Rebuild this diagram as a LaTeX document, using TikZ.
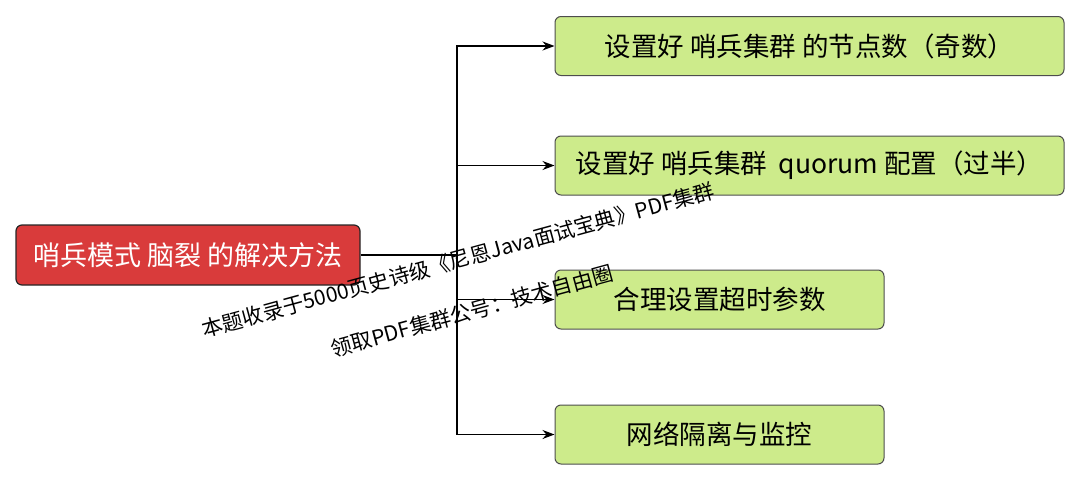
\documentclass[tikz,border=0pt]{standalone}
\usepackage{fontspec}
\newfontfamily\cjk{Noto Sans CJK SC}
\usetikzlibrary{arrows.meta}
\definecolor{rootred}{HTML}{D93B3B}
\definecolor{leafgreen}{HTML}{CDEB8B}
\definecolor{leafborder}{HTML}{4D4D4D}
\begin{document}
\begin{tikzpicture}[x=1pt,y=-1pt,
  rootbox/.style={draw=black!85, line width=1.2pt, fill=rootred, rounded corners=6pt, text=white,
     font=\cjk\fontsize{27}{30}\selectfont, minimum height=60pt, minimum width=344pt, inner sep=0pt},
  leafbox/.style={draw=leafborder, line width=1pt, fill=leafgreen, rounded corners=6pt, text=black,
     font=\cjk\fontsize{26.5}{30}\selectfont, minimum height=59pt, inner sep=0pt},
  conn/.style={draw=black, line width=1.2pt},
  arr/.style={conn, -{Stealth[length=12pt,width=9pt]}},
  wm/.style={font=\cjk\fontsize{21}{24}\selectfont, text=black, rotate=15.3, inner sep=0pt}
]
\useasboundingbox (0,0) rectangle (1080,480);
\node[rootbox] (root) at (188,255) {哨兵模式 脑裂 的解决方法};
\node[leafbox, minimum width=509pt] (b1) at (809.5,46) {设置好 哨兵集群 的节点数（奇数）};
\node[leafbox, minimum width=509pt] (b2) at (809.5,165.5) {设置好 哨兵集群 \ quorum 配置（过半）};
\node[leafbox, minimum width=329pt] (b3) at (719.5,299.5) {合理设置超时参数};
\node[leafbox, minimum width=329pt] (b4) at (719.5,434.5) {网络隔离与监控};
\coordinate (j) at (457,255);
\draw[conn] (root.east) -- (j);
\draw[arr] (j) |- (b1.west);
\draw[arr] (j) |- (b2.west);
\draw[arr] (j) |- (b3.west);
\draw[arr] (j) |- (b4.west);
\node[wm] (w1) at (458,260) {本题收录于5000页史诗级《尼恩Java面试宝典》PDF集群};
\node[wm] (w2) at (472,311) {领取PDF集群公号：技术自由圈};
\end{tikzpicture}
\end{document}
